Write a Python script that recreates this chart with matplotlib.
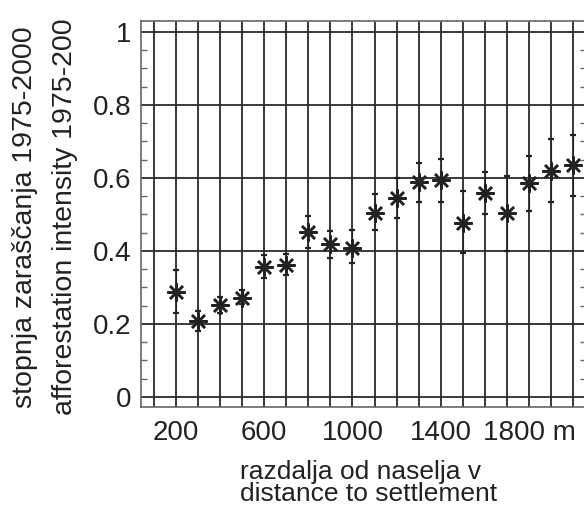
import numpy as np
import matplotlib
matplotlib.use("Agg")
import matplotlib.pyplot as plt
from matplotlib.ticker import MultipleLocator, FixedLocator, FixedFormatter

# distance to settlement (m) and afforestation intensity with error bar ends
distance = [200, 300, 400, 500, 600, 700, 800, 900, 1000, 1100,
            1200, 1300, 1400, 1500, 1600, 1700, 1800, 1900, 2000]
intensity = [0.288, 0.208, 0.251, 0.272, 0.356, 0.361, 0.452, 0.418, 0.409, 0.505,
             0.544, 0.589, 0.594, 0.477, 0.558, 0.503, 0.585, 0.620, 0.635]
upper = [0.347, 0.236, 0.274, 0.293, 0.388, 0.391, 0.495, 0.455, 0.457, 0.555,
         0.599, 0.641, 0.651, 0.565, 0.617, 0.605, 0.660, 0.706, 0.718]
lower = [0.229, 0.181, 0.229, 0.254, 0.326, 0.333, 0.409, 0.381, 0.367, 0.457,
         0.489, 0.535, 0.535, 0.393, 0.500, 0.400, 0.510, 0.535, 0.550]

xtick_pos = [200, 600, 1000, 1400, 1800]
xtick_labels = ['200', '600', '1000', '1400', '1800 m']
ylabel_si = 'stopnja zaraščanja 1975-2000'
ylabel_en = 'afforestation intensity 1975-200'

plt.rcParams['font.family'] = ['Liberation Sans', 'DejaVu Sans']
ink = '#222222'

fig = plt.figure(figsize=(5.84, 5.13), dpi=100)
ax = fig.add_axes([0.2414, 0.2066, 0.7620, 0.7525])

ax.set_xlim(42, 2058)
ax.set_ylim(-0.028, 1.030)

# grid drawn by hand as lines so it sits under the markers
for gx in range(100, 2100, 100):
    ax.axvline(gx, color='#2a2a2a', lw=1.3, zorder=1)
for gy in np.arange(0, 1.01, 0.2):
    ax.axhline(gy, color='#2a2a2a', lw=1.3, zorder=1)

y = np.array(intensity)
yerr = [y - np.array(lower), np.array(upper) - y]
ax.errorbar(distance, intensity, yerr=yerr, fmt='none', ecolor=ink,
            elinewidth=0.8, capsize=2.2, capthick=1.6, zorder=2)
ax.plot(distance, intensity, linestyle='none', marker=(8, 2, 0), markersize=13,
        markeredgewidth=1.8, color=ink, zorder=3)

ax.xaxis.set_major_locator(FixedLocator(xtick_pos))
ax.xaxis.set_major_formatter(FixedFormatter(xtick_labels))
ax.yaxis.set_major_locator(MultipleLocator(0.2))
ax.yaxis.set_minor_locator(MultipleLocator(0.05))
ax.yaxis.set_major_formatter(plt.FuncFormatter(lambda v, p: '%g' % round(v, 2)))

ax.tick_params(axis='x', which='both', length=0, pad=9, labelsize=20, colors=ink)
ax.tick_params(axis='y', which='major', direction='in', length=0, pad=7,
               labelsize=20, colors=ink, right=True)
ax.tick_params(axis='y', which='minor', direction='in', length=4, width=1,
               color='#666666', right=True)

for s in ax.spines.values():
    s.set_color('#666666')
    s.set_linewidth(1.2)

ax.set_xlabel('razdalja od naselja v\ndistance to settlement', fontsize=19,
              color=ink, multialignment='left', linespacing=0.9)
ax.xaxis.label.set_ha('left')
ax.xaxis.label.set_va('top')
ax.xaxis.set_label_coords(0.2225, -0.138, transform=ax.transAxes)

# two-line y label, the english line is cut in the source picture
fig.text(38 / 584, 1 - 408 / 513, ylabel_si, rotation=90, ha='right', va='bottom',
         fontsize=20.5, color=ink)
fig.text(78 / 584, 1 - 415 / 513, ylabel_en, rotation=90, ha='right', va='bottom',
         fontsize=20.5, color=ink)

fig.savefig('out.png', dpi=100)
